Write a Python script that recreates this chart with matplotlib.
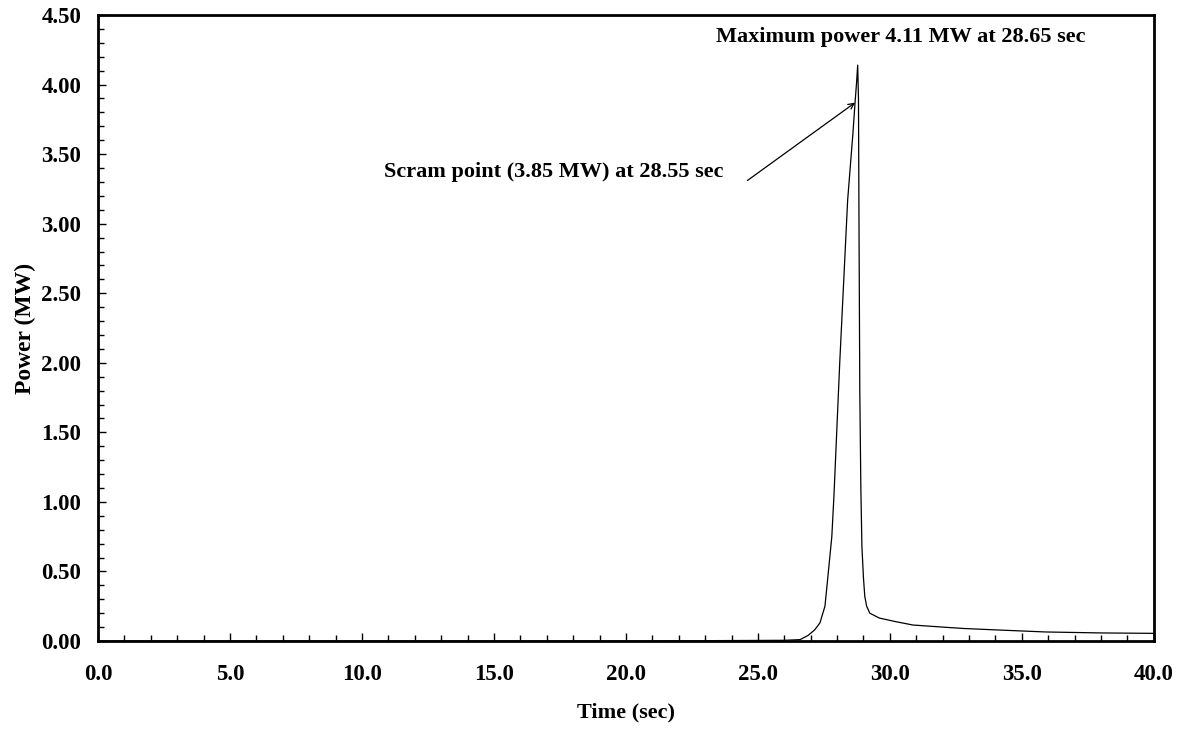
import numpy as np
import matplotlib.pyplot as plt
from matplotlib.ticker import MultipleLocator, FormatStrFormatter

# power transient
time_s = [0.0, 20.0, 26.0, 26.6, 26.9, 27.15, 27.35, 27.54, 27.65, 27.8, 27.88,
          28.1, 28.4, 28.6, 28.68, 28.74, 28.78, 28.81, 28.83, 28.86, 28.9,
          28.94, 29.0, 29.05, 29.12, 29.24, 29.6, 30.2, 30.87, 32.0, 32.8,
          34.0, 35.9, 38.0, 40.0]
power_mw = [0.0, 0.0, 0.005, 0.01, 0.04, 0.08, 0.13, 0.25, 0.46, 0.75, 1.04,
            2.0, 3.17, 3.65, 3.87, 4.02, 4.14, 3.9, 3.0, 1.8, 1.1,
            0.68, 0.45, 0.32, 0.25, 0.2, 0.165, 0.14, 0.115, 0.1, 0.09,
            0.08, 0.065, 0.058, 0.055]

scram_t, scram_p = 28.68, 3.87
max_label = "Maximum power 4.11 MW at 28.65 sec"
scram_label = "Scram point (3.85 MW) at 28.55 sec"

plt.rcParams['font.family'] = ['Liberation Serif', 'DejaVu Serif']
plt.rcParams['font.weight'] = 'bold'

fig = plt.figure(figsize=(11.81, 7.29), dpi=100)
ax = fig.add_axes([0.083, 0.1207, 0.894, 0.8587])

ax.plot(time_s, power_mw, color='black', lw=0.9)

ax.set_xlim(0, 40)
ax.set_ylim(0, 4.5)
ax.xaxis.set_major_locator(MultipleLocator(5))
ax.xaxis.set_minor_locator(MultipleLocator(1))
ax.yaxis.set_major_locator(MultipleLocator(0.5))
ax.yaxis.set_minor_locator(MultipleLocator(0.1))
ax.xaxis.set_major_formatter(FormatStrFormatter('%.1f'))
ax.yaxis.set_major_formatter(FormatStrFormatter('%.2f'))
ax.tick_params(which='both', direction='in', labelsize=16.5, width=1)
ax.tick_params(which='major', length=6)
ax.tick_params(which='minor', length=4)
ax.tick_params(axis='x', pad=16.5)
ax.tick_params(axis='y', pad=12)
for lab in ax.get_xticklabels() + ax.get_yticklabels():
    lab.set_fontweight('bold')
for sp in ax.spines.values():
    sp.set_linewidth(2)

ax.set_xlabel('Time (sec)', fontsize=16, fontweight='bold', labelpad=13)
ax.set_ylabel('Power (MW)', fontsize=17, fontweight='bold', labelpad=4)

ax.text(30.4, 4.34, max_label, ha='center', va='center', fontsize=16,
        fontweight='bold')
ax.text(17.25, 3.37, scram_label, ha='center', va='center', fontsize=16,
        fontweight='bold')
ax.annotate('', xy=(scram_t, scram_p), xytext=(24.6, 3.31),
            arrowprops=dict(arrowstyle='->', color='black', lw=0.9,
                            shrinkA=0, shrinkB=0))

fig.savefig('out.png', dpi=100)
